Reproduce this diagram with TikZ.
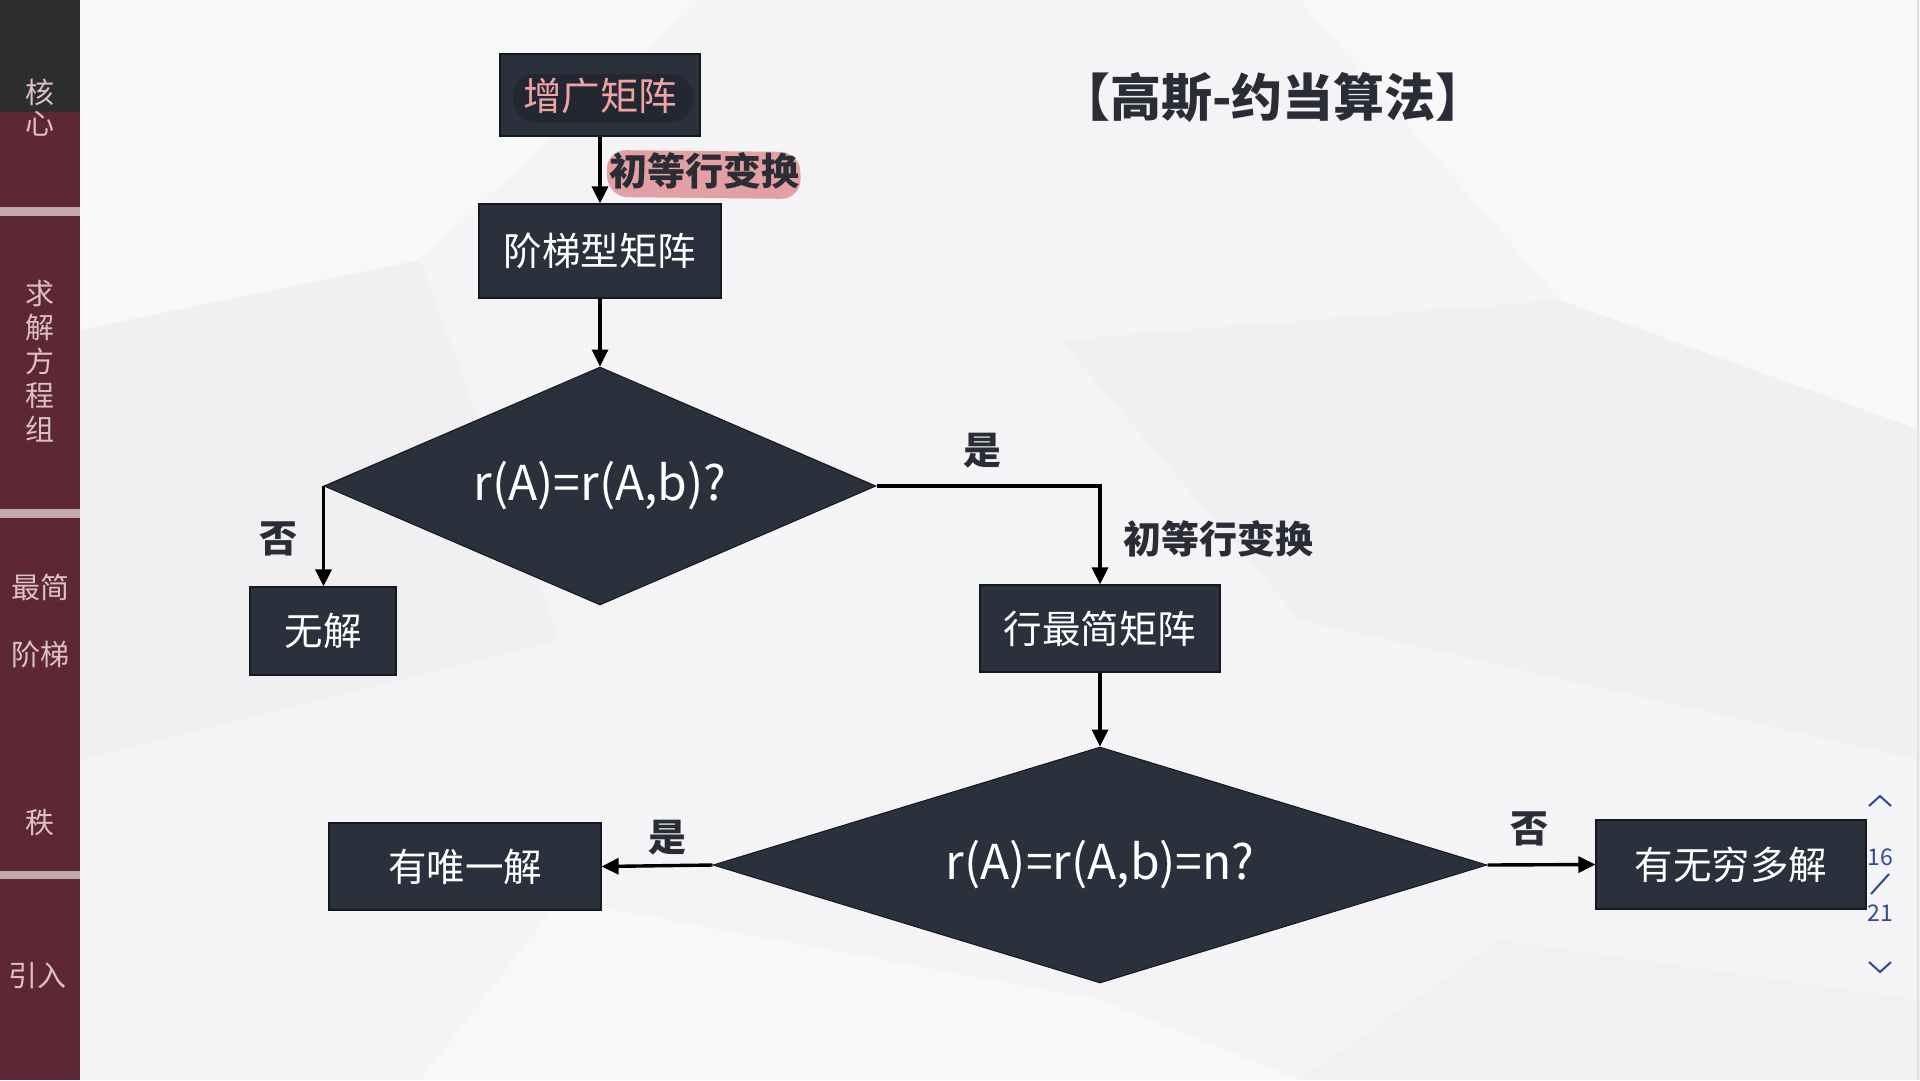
\documentclass[tikz,border=0pt]{standalone}
\usepackage{fontspec}
\setmainfont{Noto Sans CJK SC}
\usetikzlibrary{shapes.geometric,arrows.meta}
\definecolor{boxfill}{HTML}{2B303D}
\definecolor{boxline}{HTML}{15181F}
\definecolor{bgc}{HTML}{F4F4F6}
\definecolor{sidered}{HTML}{5E2735}
\definecolor{sidedark}{HTML}{2E2E30}
\definecolor{sidesep}{HTML}{C2A9AE}
\definecolor{sidetext}{HTML}{DCC0C6}
\definecolor{labtext}{HTML}{2A2D35}
\definecolor{pinktext}{HTML}{F0A3A3}
\definecolor{pinkhl}{HTML}{E3A0A2}
\definecolor{navblue}{HTML}{2F4D8C}
\tikzset{
  flowbox/.style={draw=boxline, line width=1.2pt, fill=boxfill, text=white, inner sep=0pt,
    font=\fontsize{38.5}{42}\selectfont},
  decide/.style={diamond, draw=boxline, line width=1pt, fill=boxfill, text=white, inner sep=0pt,
    font=\fontsize{48}{54}\selectfont},
  conn/.style={line width=3.4pt, draw=black, -{Triangle[length=17pt,width=16pt]}},
  condlab/.style={text=labtext, font=\bfseries\fontsize{38}{42}\selectfont, inner sep=0pt},
  sidelab/.style={text=sidetext, font=\fontsize{29}{32}\selectfont, inner sep=0pt},
  navtext/.style={text=navblue, font=\fontsize{23}{26}\selectfont, inner sep=0pt}
}
\begin{document}
\begin{tikzpicture}[x=1pt,y=-1pt]
\useasboundingbox (0,0) rectangle (1920,1080);
% background
\fill[bgc] (0,0) rectangle (1920,1080);
\fill[white,opacity=0.4] (80,0) -- (700,0) -- (420,260) -- (80,330) -- cycle;
\fill[white,opacity=0.4] (1300,0) -- (1920,0) -- (1920,430) -- (1560,300) -- cycle;
\fill[black,opacity=0.015] (80,330) -- (420,260) -- (560,640) -- (80,760) -- cycle;
\fill[black,opacity=0.015] (1060,340) -- (1560,300) -- (1920,430) -- (1920,760) -- (1300,620) -- cycle;
\fill[white,opacity=0.4] (420,1080) -- (560,900) -- (1100,1000) -- (1300,1080) -- cycle;
\fill[black,opacity=0.012] (1300,1080) -- (1500,940) -- (1920,1000) -- (1920,1080) -- cycle;
% sidebar
\fill[sidered] (0,0) rectangle (80,1080);
\fill[sidedark] (0,0) rectangle (80,112);
\fill[sidesep] (0,207) rectangle (80,216);
\fill[sidesep] (0,509) rectangle (80,518);
\fill[sidesep] (0,871) rectangle (80,879);
\node[sidelab] (s1) at (40,92) {核};
\node[sidelab] (s2) at (40,124) {心};
\node[sidelab, align=center, font=\fontsize{29}{34}\selectfont] (s3) at (40,361) {求\\解\\方\\程\\组};
\node[sidelab] (s4) at (40,587) {最简};
\node[sidelab] (s5) at (40,654) {阶梯};
\node[sidelab] (s6) at (40,823) {秩};
\node[sidelab] (s7) at (38,976) {引入};
% title
\node[text=labtext, font=\bfseries\fontsize{51}{56}\selectfont, inner sep=0pt] (title) at (1273,98) {【高斯-约当算法】};
% boxes
\node[flowbox, minimum width=200pt, minimum height=82pt] (aug) at (600,95) {};
\fill[black,opacity=0.18, rounded corners=22pt] (513,74) rectangle (693,122);
\node[text=pinktext, font=\fontsize{38.5}{42}\selectfont, inner sep=0pt] (augt) at (600,96) {增广矩阵};
\node[flowbox, minimum width=242pt, minimum height=94pt] (ech) at (600,251) {阶梯型矩阵};
\node[decide, aspect=2.32, minimum width=552pt, minimum height=238pt] (d1) at (600,486) {r(A)=r(A,b)?};
\node[flowbox, minimum width=146pt, minimum height=88pt] (none) at (323,631) {无解};
\node[flowbox, minimum width=240pt, minimum height=87pt] (rref) at (1100,628.5) {行最简矩阵};
\node[decide, aspect=3.28, minimum width=774pt, minimum height=236pt] (d2) at (1100,865) {r(A)=r(A,b)=n?};
\node[flowbox, minimum width=272pt, minimum height=87pt] (uniq) at (465,866.5) {有唯一解};
\node[flowbox, minimum width=270pt, minimum height=89pt] (inf) at (1731,864.5) {有无穷多解};
% connectors
\fill[pinkhl, rounded corners=20pt] (606,150) -- (800,152) -- (801,199) -- (608,197) -- cycle;
\draw[conn] (aug.south) -- (ech.north);
\draw[conn] (ech.south) -- (d1.north);
\draw[conn] (d1.west) -- (d1.west |- none.north);
\draw[conn] (d1.east) -| (rref.north);
\draw[conn] (rref.south) -- (d2.north);
\draw[conn] (d2.west) -- (uniq.east);
\draw[conn] (d2.east) -- (inf.west);
% labels
\node[condlab] (l1) at (704,171) {初等行变换};
\node[condlab] (l2) at (278,539) {否};
\node[condlab] (l3) at (982,451) {是};
\node[condlab] (l4) at (1218,539) {初等行变换};
\node[condlab] (l5) at (667,838) {是};
\node[condlab] (l6) at (1529,829) {否};
% navigation
\draw[navblue, line width=2pt] (1869,806) -- (1880,796) -- (1891,806);
\node[navtext] (n1) at (1880,857) {16};
\draw[navblue, line width=2pt] (1871,894) -- (1889,874);
\node[navtext] (n2) at (1880,913) {21};
\draw[navblue, line width=2pt] (1869,962) -- (1880,972) -- (1891,962);
\draw[black!12, line width=2pt] (1918,0) -- (1918,1080);
\end{tikzpicture}
\end{document}
